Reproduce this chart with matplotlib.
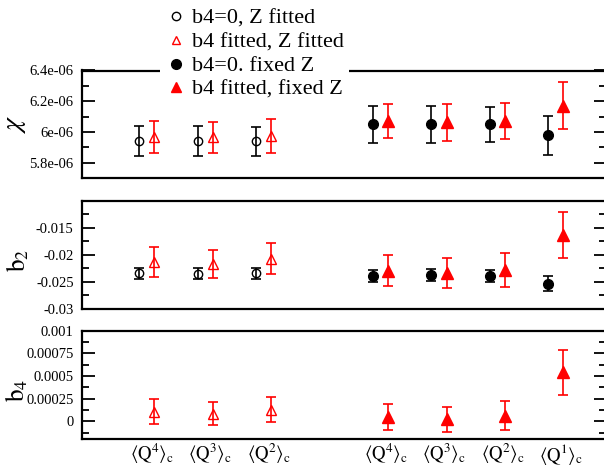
import matplotlib
matplotlib.use("Agg")
import matplotlib.pyplot as plt
from matplotlib.lines import Line2D
from matplotlib.ticker import FuncFormatter, FixedLocator

plt.rcParams['font.family'] = ['Liberation Serif', 'DejaVu Serif']
plt.rcParams['mathtext.fontset'] = 'stix'
plt.rcParams['axes.unicode_minus'] = False

# categories
labels_zfit = [r'$\langle \mathrm{Q}^4\rangle_\mathrm{c}$', r'$\langle \mathrm{Q}^3\rangle_\mathrm{c}$',
               r'$\langle \mathrm{Q}^2\rangle_\mathrm{c}$']
labels_zfix = [r'$\langle \mathrm{Q}^4\rangle_\mathrm{c}$', r'$\langle \mathrm{Q}^3\rangle_\mathrm{c}$',
               r'$\langle \mathrm{Q}^2\rangle_\mathrm{c}$', r'$\langle \mathrm{Q}^1\rangle_\mathrm{c}$']
pos_zfit = [1, 2, 3]
pos_zfix = [5, 6, 7, 8]

# chi (x1e-6)
chi_b40_zfit = [5.94, 5.938, 5.94]
chi_b40_zfit_err = [0.10, 0.098, 0.094]
chi_b4f_zfit = [5.964, 5.965, 5.973]
chi_b4f_zfit_err = [0.104, 0.10, 0.108]
chi_b40_zfix = [6.05, 6.051, 6.049, 5.977]
chi_b40_zfix_err = [0.122, 0.12, 0.116, 0.124]
chi_b4f_zfix = [6.072, 6.062, 6.072, 6.17]
chi_b4f_zfix_err = [0.113, 0.118, 0.117, 0.154]

# b2
b2_b40_zfit = [-0.0234, -0.02347, -0.0234]
b2_b40_zfit_err = [0.001, 0.001, 0.001]
b2_b4f_zfit = [-0.0213, -0.02168, -0.0207]
b2_b4f_zfit_err = [0.0028, 0.0026, 0.0028]
b2_b40_zfix = [-0.02387, -0.0238, -0.0239, -0.02535]
b2_b40_zfix_err = [0.0011, 0.0011, 0.0011, 0.0014]
b2_b4f_zfix = [-0.0229, -0.02334, -0.0228, -0.0163]
b2_b4f_zfix_err = [0.00285, 0.0028, 0.0031, 0.0043]

# b4
b4_b4f_zfit = [0.000105, 0.000083, 0.000127]
b4_b4f_zfit_err = [0.00014, 0.00013, 0.00014]
b4_b4f_zfix = [0.00005, 0.00002, 0.00006, 0.00054]
b4_b4f_zfix_err = [0.000145, 0.00014, 0.00016, 0.000246]

W, H = 604, 468
fig = plt.figure(figsize=(W / 100, H / 100), dpi=100)

def fr(top, bottom, left=82, right=605.5):
    return [left / W, 1 - bottom / H, (right - left) / W, (bottom - top) / H]

ax1 = fig.add_axes(fr(70.5, 178))
ax2 = fig.add_axes(fr(200.7, 309))
ax3 = fig.add_axes(fr(330.7, 439.3))

off = 0.13
eb_kw = dict(capsize=3.6, elinewidth=1.2, capthick=1.2, linestyle='none')

def shift(p, d):
    return [x + d for x in p]

# chi panel
ax1.errorbar(shift(pos_zfit, -off), [v * 1e-6 for v in chi_b40_zfit], yerr=[e * 1e-6 for e in chi_b40_zfit_err],
             marker='o', ms=6, mfc='none', mec='black', color='black', **eb_kw)
ax1.errorbar(shift(pos_zfit, off), [v * 1e-6 for v in chi_b4f_zfit], yerr=[e * 1e-6 for e in chi_b4f_zfit_err],
             marker='^', ms=7, mfc='none', mec='red', color='red', **eb_kw)
ax1.errorbar(shift(pos_zfix, -off), [v * 1e-6 for v in chi_b40_zfix], yerr=[e * 1e-6 for e in chi_b40_zfix_err],
             marker='o', ms=7, mfc='black', mec='black', color='black', **eb_kw)
ax1.errorbar(shift(pos_zfix, off), [v * 1e-6 for v in chi_b4f_zfix], yerr=[e * 1e-6 for e in chi_b4f_zfix_err],
             marker='^', ms=8, mfc='red', mec='red', color='red', **eb_kw)

# b2 panel
ax2.errorbar(shift(pos_zfit, -off), b2_b40_zfit, yerr=b2_b40_zfit_err,
             marker='o', ms=6, mfc='none', mec='black', color='black', **eb_kw)
ax2.errorbar(shift(pos_zfit, off), b2_b4f_zfit, yerr=b2_b4f_zfit_err,
             marker='^', ms=7, mfc='none', mec='red', color='red', **eb_kw)
ax2.errorbar(shift(pos_zfix, -off), b2_b40_zfix, yerr=b2_b40_zfix_err,
             marker='o', ms=7, mfc='black', mec='black', color='black', **eb_kw)
ax2.errorbar(shift(pos_zfix, off), b2_b4f_zfix, yerr=b2_b4f_zfix_err,
             marker='^', ms=8, mfc='red', mec='red', color='red', **eb_kw)

# b4 panel
ax3.errorbar(shift(pos_zfit, off), b4_b4f_zfit, yerr=b4_b4f_zfit_err,
             marker='^', ms=7, mfc='none', mec='red', color='red', **eb_kw)
ax3.errorbar(shift(pos_zfix, off), b4_b4f_zfix, yerr=b4_b4f_zfix_err,
             marker='^', ms=8, mfc='red', mec='red', color='red', **eb_kw)

fmt = FuncFormatter(lambda v, p: '%g' % v)

ax1.set_ylim(5.7e-6, 6.4e-6)
ax1.yaxis.set_major_locator(FixedLocator([5.8e-6, 6.0e-6, 6.2e-6, 6.4e-6]))
ax1.yaxis.set_minor_locator(FixedLocator([5.9e-6, 6.1e-6, 6.3e-6]))
ax2.set_ylim(-0.03, -0.01)
ax2.yaxis.set_major_locator(FixedLocator([-0.03, -0.025, -0.02, -0.015]))
ax2.yaxis.set_minor_locator(FixedLocator([-0.0275, -0.0225, -0.0175, -0.0125]))
ax3.set_ylim(-0.0002, 0.001)
ax3.yaxis.set_major_locator(FixedLocator([0, 0.00025, 0.0005, 0.00075, 0.001]))
ax3.yaxis.set_minor_locator(FixedLocator([-0.000125, 0.000125, 0.000375, 0.000625, 0.000875]))

for ax in (ax1, ax2, ax3):
    ax.set_xlim(-0.106, 8.85)
    ax.yaxis.set_major_formatter(fmt)
    ax.tick_params(axis='y', which='major', direction='in', length=9, width=1.3,
                   left=True, right=True, labelsize=10.5, pad=6)
    ax.tick_params(axis='y', which='minor', direction='in', length=5, width=1.3,
                   left=True, right=True)
    for s in ax.spines.values():
        s.set_linewidth(1.6)
    ax.set_xticks([])

ax3.set_xticks([p + 0.09 for p in pos_zfit + pos_zfix])
ax3.set_xticklabels(labels_zfit + labels_zfix)
ax3.tick_params(axis='x', length=0, labelsize=13.5, pad=2)

ax1.set_ylabel(r'$\chi$', fontsize=20)
ax2.set_ylabel(r'$\mathrm{b}_2$', fontsize=18)
ax3.set_ylabel(r'$\mathrm{b}_4$', fontsize=18)
ax1.yaxis.set_label_coords(-0.104, 0.5)
ax2.yaxis.set_label_coords(-0.097, 0.45)
ax3.yaxis.set_label_coords(-0.1, 0.45)

handles = [
    Line2D([], [], marker='o', ls='none', ms=6, mfc='none', mec='black'),
    Line2D([], [], marker='^', ls='none', ms=6, mfc='none', mec='red'),
    Line2D([], [], marker='o', ls='none', ms=7, mfc='black', mec='black'),
    Line2D([], [], marker='^', ls='none', ms=7, mfc='red', mec='red'),
]
leg_labels = ['b4=0, Z fitted', 'b4 fitted, Z fitted', 'b4=0. fixed Z', 'b4 fitted, fixed Z']
leg = fig.legend(handles, leg_labels, loc='upper left', bbox_to_anchor=(160 / W, 1 - 4 / H),
                 fontsize=16, frameon=True, facecolor='white', edgecolor='none', framealpha=1,
                 fancybox=False, handlelength=1.0, handletextpad=0.25, labelspacing=0.14,
                 borderpad=0.2, borderaxespad=0)

fig.savefig('out.png', dpi=100)
